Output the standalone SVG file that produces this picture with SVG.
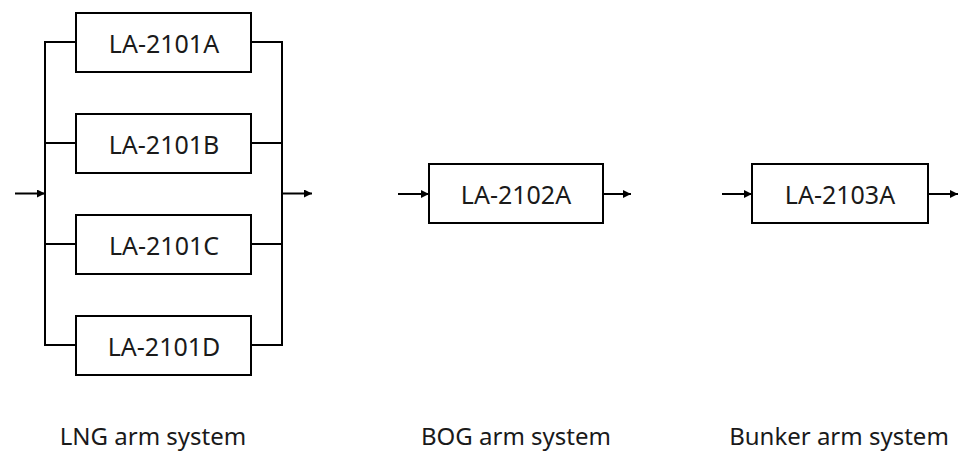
<svg xmlns="http://www.w3.org/2000/svg" width="959" height="452" viewBox="0 0 959 452">
<defs>
<marker id="arr" viewBox="0 0 10 10" refX="10" refY="5" markerWidth="9" markerHeight="8" markerUnits="userSpaceOnUse" orient="auto">
<path d="M0,0 L10,5 L0,10 Z" fill="#000"/>
</marker>
<style>
.box{fill:#fff;stroke:#000;stroke-width:2}
.ln{fill:none;stroke:#000;stroke-width:2}
.lbl{font-family:"Noto Sans","Open Sans",sans-serif;font-size:25px;fill:#1a1a1a;text-anchor:middle}
.cap{font-family:"Noto Sans","Open Sans",sans-serif;font-size:24px;fill:#1a1a1a;text-anchor:middle}
</style>
</defs>
<rect width="959" height="452" fill="#fff"/>
<g id="connectors">
<path class="ln" d="M76,42 H45 V345 H76 M45,143 H76 M45,244 H76"/>
<path class="ln" d="M251,42 H282 V345 H251 M282,143 H251 M282,244 H251"/>
<line class="ln" x1="15" y1="193.5" x2="45" y2="193.5" marker-end="url(#arr)"/>
<line class="ln" x1="282" y1="193.5" x2="312" y2="193.5" marker-end="url(#arr)"/>
<line class="ln" x1="398" y1="194" x2="429" y2="194" marker-end="url(#arr)"/>
<line class="ln" x1="603" y1="194" x2="631" y2="194" marker-end="url(#arr)"/>
<line class="ln" x1="722" y1="194" x2="752" y2="194" marker-end="url(#arr)"/>
<line class="ln" x1="928" y1="194" x2="958" y2="194" marker-end="url(#arr)"/>
</g>
<g id="LA-2101A"><rect class="box" x="76" y="13" width="175" height="59"/><text class="lbl" x="164" y="53">LA-2101A</text></g>
<g id="LA-2101B"><rect class="box" x="76" y="114" width="175" height="59"/><text class="lbl" x="164" y="154">LA-2101B</text></g>
<g id="LA-2101C"><rect class="box" x="76" y="215" width="175" height="59"/><text class="lbl" x="164" y="255">LA-2101C</text></g>
<g id="LA-2101D"><rect class="box" x="76" y="316" width="175" height="59"/><text class="lbl" x="164" y="356">LA-2101D</text></g>
<g id="LA-2102A"><rect class="box" x="429" y="164" width="174" height="59"/><text class="lbl" x="516" y="203.5">LA-2102A</text></g>
<g id="LA-2103A"><rect class="box" x="752" y="164" width="176" height="59"/><text class="lbl" x="840" y="203.5">LA-2103A</text></g>
<g id="captions">
<text class="cap" x="153" y="445">LNG arm system</text>
<text class="cap" x="516" y="445">BOG arm system</text>
<text class="cap" x="839" y="445">Bunker arm system</text>
</g>
</svg>
